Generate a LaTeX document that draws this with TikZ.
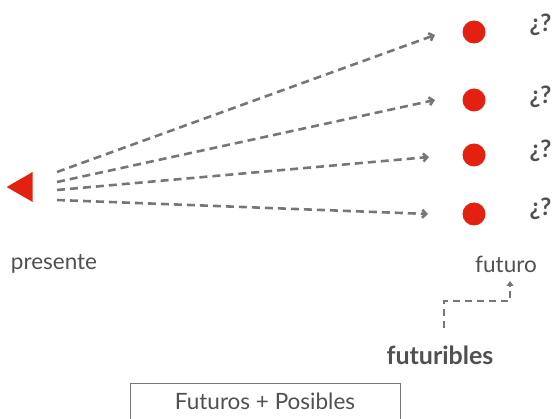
\documentclass[tikz,border=0pt]{standalone}
\usepackage{fontspec}
\setmainfont{Lato}
\usetikzlibrary{arrows.meta,shapes.geometric,calc}
\definecolor{futred}{RGB}{228,32,16}
\definecolor{lngray}{RGB}{118,118,118}
\definecolor{txtgray}{RGB}{80,80,80}

\begin{document}
\begin{tikzpicture}[x=1pt,y=-1pt]
\tikzset{
	point node/.style = {circle, fill = futred, inner sep = 0, minimum size = 23},
	guess node/.style = {anchor = west, text = txtgray, font = \bfseries\fontsize{24}{26}\selectfont},
	label node/.style = {text = txtgray, font = \fontsize{22.5}{24}\selectfont},
	dash arrow/.style = {draw = lngray, line width = 2.6, dash pattern = on 8 off 5, -{Straight Barb[length = 4, width = 8]}},
	elbow arrow/.style = {draw = lngray, line width = 2.6, dash pattern = on 7 off 5, -{Triangle[length = 5, width = 7]}},
}
\useasboundingbox (0,0) rectangle (554,419);
\clip (0,0) rectangle (554,419);
% presente
\node(now)[isosceles triangle, shape border rotate = 180, isosceles triangle stretches,
	fill = futred, inner sep = 0, minimum height = 26, minimum width = 30] at (24,187) {};
\node(pre)[label node] at (54,264) {presente};
% futuros
\foreach \i/\y/\t in {1/32/25, 2/100/97, 3/155/151, 4/214/209}{
	\node(f\i)[point node] at (474,\y) {};
	\node(q\i)[guess node] at (526,\t) {¿?};
}
\node(fut)[label node] at (506,264) {futuro};
% flechas
\coordinate(s1) at (57,172);
\coordinate(s2) at (57,182);
\coordinate(s3) at (57,190);
\coordinate(s4) at (57,200);
\coordinate(e1) at (435,35);
\coordinate(e2) at (435,100);
\coordinate(e3) at (429,157);
\coordinate(e4) at (428,214);
\foreach \i in {1,...,4}
	\draw[dash arrow] (s\i) -- (e\i);
% futuribles
\node(fb)[label node, font = \bfseries\fontsize{25}{27}\selectfont] at (440,355) {futuribles};
\coordinate(fb0) at (444,328);
\coordinate(ft0) at (510,281);
\draw[elbow arrow] (fb0) -- (444,301) -- (510,301) -- (ft0);
% recuadro
\node(box)[draw = lngray, line width = 1, minimum width = 270, minimum height = 44, anchor = north] at (265,383) {};
\node[label node] at ($(box.north)+(0,18)$) {Futuros + Posibles};
\end{tikzpicture}
\end{document}
